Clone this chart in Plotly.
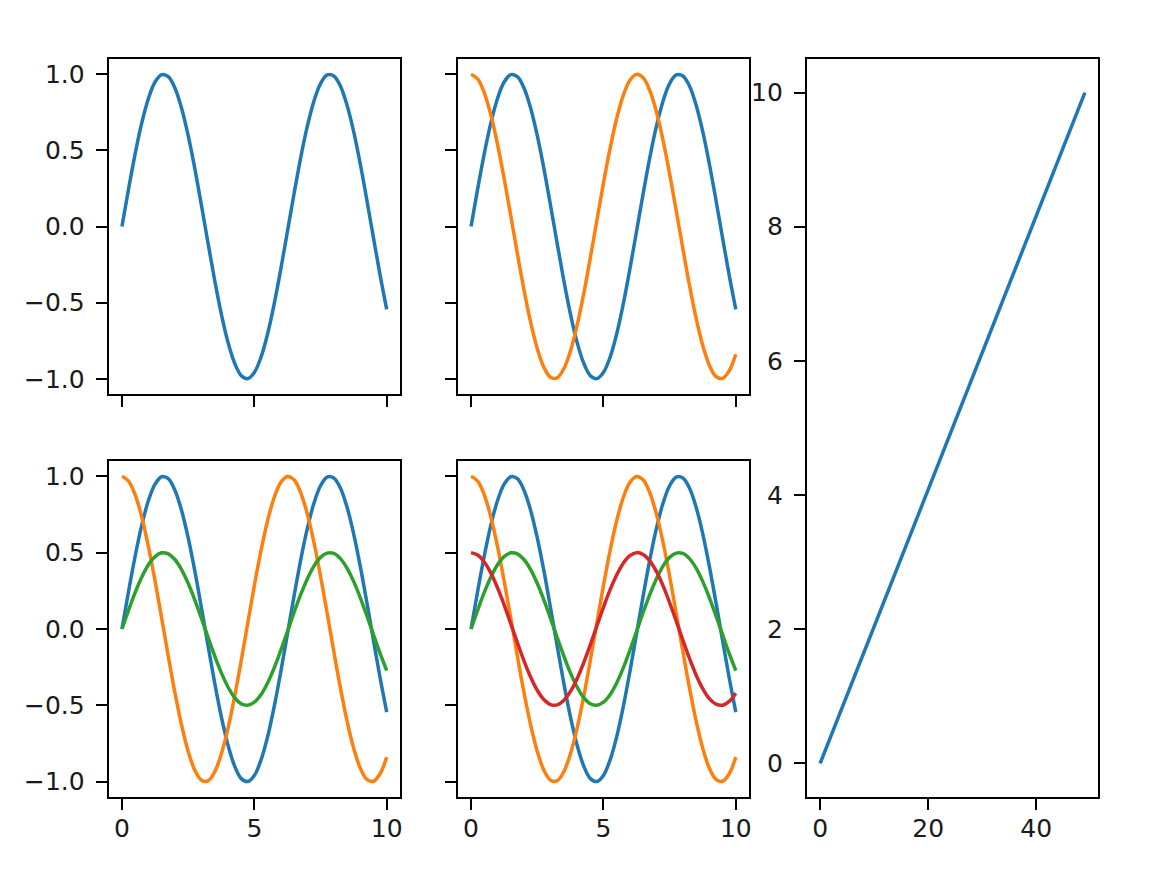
import plotly.graph_objects as go

# ---- data ----
x_vals = [0, 0.25, 0.5, 0.75, 1, 1.25, 1.5, 1.75, 2, 2.25, 2.5, 2.75, 3, 3.25, 3.5, 3.75,
          4, 4.25, 4.5, 4.75, 5, 5.25, 5.5, 5.75, 6, 6.25, 6.5, 6.75, 7, 7.25, 7.5, 7.75,
          8, 8.25, 8.5, 8.75, 9, 9.25, 9.5, 9.75, 10]
blue_vals = [0, 0.247, 0.479, 0.682, 0.841, 0.949, 0.997, 0.984, 0.909, 0.778, 0.598, 0.382,
             0.141, -0.108, -0.351, -0.572, -0.757, -0.895, -0.978, -0.999, -0.959, -0.859,
             -0.706, -0.508, -0.279, -0.033, 0.215, 0.451, 0.657, 0.823, 0.938, 0.995, 0.989,
             0.923, 0.798, 0.625, 0.412, 0.174, -0.075, -0.319, -0.544]
orange_vals = [1, 0.969, 0.878, 0.732, 0.540, 0.315, 0.071, -0.178, -0.416, -0.628, -0.801,
               -0.924, -0.990, -0.994, -0.936, -0.820, -0.654, -0.446, -0.211, 0.038, 0.284,
               0.512, 0.709, 0.861, 0.960, 0.999, 0.977, 0.893, 0.754, 0.568, 0.347, 0.103,
               -0.146, -0.386, -0.602, -0.780, -0.911, -0.985, -0.997, -0.948, -0.839]
green_vals = [0, 0.124, 0.240, 0.341, 0.421, 0.474, 0.499, 0.492, 0.455, 0.389, 0.299, 0.191,
              0.071, -0.054, -0.175, -0.286, -0.378, -0.448, -0.489, -0.499, -0.479, -0.430,
              -0.353, -0.254, -0.140, -0.017, 0.108, 0.225, 0.328, 0.412, 0.469, 0.497, 0.495,
              0.461, 0.399, 0.312, 0.206, 0.087, -0.037, -0.160, -0.272]
red_vals = [0.5, 0.484, 0.439, 0.366, 0.270, 0.158, 0.035, -0.089, -0.208, -0.314, -0.401,
            -0.462, -0.495, -0.497, -0.468, -0.410, -0.327, -0.223, -0.105, 0.019, 0.142,
            0.256, 0.354, 0.431, 0.480, 0.500, 0.488, 0.446, 0.377, 0.284, 0.173, 0.052,
            -0.073, -0.193, -0.301, -0.390, -0.456, -0.492, -0.499, -0.474, -0.420]
line_x = [0, 49]
line_y = [0, 10]

wave_ticks = [-1.0, -0.5, 0.0, 0.5, 1.0]
wave_tick_text = ["\u22121.0", "\u22120.5", "0.0", "0.5", "1.0"]
x_ticks = [0, 5, 10]
right_x_ticks = [0, 20, 40]
right_y_ticks = [0, 2, 4, 6, 8, 10]

BLUE, ORANGE, GREEN, RED = "#1f77b4", "#ff7f0e", "#2ca02c", "#d62728"
LW = 3.5

fig = go.Figure()

def add(xs, ys, color, ax):
    fig.add_trace(go.Scatter(x=xs, y=ys, mode="lines", line=dict(color=color, width=LW, shape="spline"),
                             xaxis="x" + ax, yaxis="y" + ax, showlegend=False, hoverinfo="skip"))

# top-left
add(x_vals, blue_vals, BLUE, "")
# top-middle
add(x_vals, blue_vals, BLUE, "2")
add(x_vals, orange_vals, ORANGE, "2")
# bottom-left
add(x_vals, blue_vals, BLUE, "3")
add(x_vals, orange_vals, ORANGE, "3")
add(x_vals, green_vals, GREEN, "3")
# bottom-middle
add(x_vals, blue_vals, BLUE, "4")
add(x_vals, orange_vals, ORANGE, "4")
add(x_vals, green_vals, GREEN, "4")
add(x_vals, red_vals, RED, "4")
# right
fig.add_trace(go.Scatter(x=line_x, y=line_y, mode="lines", line=dict(color=BLUE, width=LW),
                         xaxis="x5", yaxis="y5", showlegend=False, hoverinfo="skip"))

W, H = 1150, 882
col = [(109 / W, 401 / W), (459 / W, 751 / W), (809 / W, 1101 / W)]
row1 = (1 - 394 / H, 1 - 59 / H)
row2 = (1 - 797 / H, 1 - 461 / H)
full = (1 - 797 / H, 1 - 59 / H)

base = dict(showline=True, linecolor="black", linewidth=2, mirror=True, ticks="outside",
            ticklen=11, tickwidth=2, tickcolor="black", showgrid=False, zeroline=False,
            tickfont=dict(family="DejaVu Sans", size=25, color="#1a1a1a"),
            fixedrange=True)

def xax(dom, anchor, rng, ticks, labels):
    return dict(base, domain=dom, anchor=anchor, range=rng, tickmode="array", tickvals=ticks,
                showticklabels=labels, ticklabelstandoff=-3)

def yax(dom, anchor, rng, ticks, text, labels):
    d = dict(base, domain=dom, anchor=anchor, range=rng, tickmode="array", tickvals=ticks,
             showticklabels=labels, ticklabelstandoff=6)
    if text is not None:
        d["ticktext"] = text
    return d

xr = [-0.5, 10.5]
yr = [-1.1, 1.1]
fig.update_layout(
    width=W, height=H, margin=dict(l=0, r=0, t=0, b=0),
    paper_bgcolor="white", plot_bgcolor="white",
    xaxis=xax(col[0], "y", xr, x_ticks, False),
    yaxis=yax(row1, "x", yr, wave_ticks, wave_tick_text, True),
    xaxis2=xax(col[1], "y2", xr, x_ticks, False),
    yaxis2=yax(row1, "x2", yr, wave_ticks, wave_tick_text, False),
    xaxis3=xax(col[0], "y3", xr, x_ticks, True),
    yaxis3=yax(row2, "x3", yr, wave_ticks, wave_tick_text, True),
    xaxis4=xax(col[1], "y4", xr, x_ticks, True),
    yaxis4=yax(row2, "x4", yr, wave_ticks, wave_tick_text, False),
    xaxis5=xax(col[2], "y5", [-2.45, 51.45], right_x_ticks, True),
    yaxis5=yax(full, "x5", [-0.5, 10.5], right_y_ticks, None, True),
)

fig.write_html("out.html", config={"displayModeBar": False},
               post_script="document.body.style.margin='0';document.body.style.overflow='hidden';")
